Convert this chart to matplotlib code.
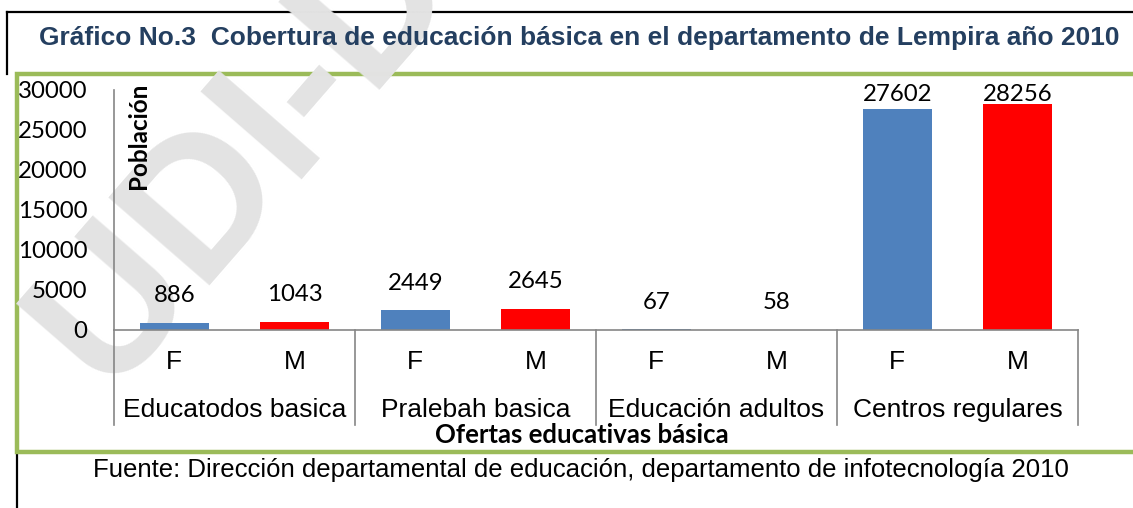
import matplotlib
matplotlib.use("Agg")
import matplotlib.pyplot as plt
from matplotlib.patches import Rectangle
from matplotlib.lines import Line2D

# datos
grupos = ["Educatodos basica", "Pralebah basica", "Educación adultos", "Centros regulares"]
sexos = ["F", "M"]
valores = [886, 1043, 2449, 2645, 67, 58, 27602, 28256]
colores = ["#4F81BD", "#FF0000"] * 4
yticks = [0, 5000, 10000, 15000, 20000, 25000, 30000]

W, H = 1133, 508
fig = plt.figure(figsize=(W / 100, H / 100), dpi=100)

def fx(px):
    return px / W

def fy(py):
    return 1 - py / H

# cajas de pagina
fig.add_artist(Line2D([fx(7), fx(1140)], [fy(12), fy(12)], color="black", lw=1.6, zorder=0))
fig.add_artist(Line2D([fx(7), fx(7)], [fy(12), fy(74)], color="black", lw=1.6, zorder=0))
fig.add_artist(Line2D([fx(17), fx(17)], [fy(452), fy(520)], color="black", lw=1.6, zorder=0))
fig.add_artist(Rectangle((fx(17), fy(452)), fx(1140) - fx(17), fy(74) - fy(452),
                         facecolor="white", edgecolor="#9BBB59", lw=3.2, zorder=0.2))

# marca de agua
fig.text(fx(106), fy(392), "UDI-DEGT-UNAH", rotation=49, rotation_mode="anchor",
         ha="left", va="baseline", fontsize=140, fontweight="bold", color="#e3e3e3",
         family="Liberation Sans", zorder=0.5)

fig.text(fx(579), fy(38), "Gráfico No.3  Cobertura de educación básica en el departamento de Lempira año 2010",
         ha="center", va="center", fontsize=19, fontweight="bold", color="#243F60",
         family="Liberation Sans", zorder=3)

ax = fig.add_axes([fx(114), fy(330), fx(1078) - fx(114), (330 - 90) / H])
ax.set_zorder(2)
ax.patch.set_visible(False)

x = list(range(len(valores)))
bars = ax.bar(x, valores, width=0.57, color=colores)
ax.set_xlim(-0.5, len(valores) - 0.5)
ax.set_ylim(0, 30000)
ax.set_yticks(yticks)
ax.set_yticklabels([str(t) for t in yticks], family="Lato", fontsize=17.3)
ax.tick_params(axis="y", length=0, pad=19)
ax.set_xticks([])
for s in ["top", "right"]:
    ax.spines[s].set_visible(False)
for s in ["left", "bottom"]:
    ax.spines[s].set_color("#868686")
    ax.spines[s].set_linewidth(1.2)

# etiquetas de datos
for xi, v in zip(x, valores):
    ax.text(xi, min(v + 3375, 29400), str(v), ha="center", va="center",
            family="Lato", fontsize=17.3, clip_on=False)

tr = ax.get_xaxis_transform()
for i, xi in enumerate(x):
    ax.text(xi, -32 / 240, sexos[i % 2], transform=tr, ha="center", va="center",
            family="Liberation Sans", fontsize=19)
for g, nombre in enumerate(grupos):
    ax.text(2 * g + 0.5, -80 / 240, nombre, transform=tr, ha="center", va="center",
            family="Liberation Sans", fontsize=19)
for b in range(len(grupos) + 1):
    ax.plot([2 * b - 0.5, 2 * b - 0.5], [0, -95 / 240], transform=tr, color="#868686",
            lw=1.2, clip_on=False)

fig.text(fx(138), fy(83), "Población", rotation=90, ha="center", va="top",
         fontsize=17.5, fontweight="bold", family="Lato", zorder=3)
fig.text(fx(582), fy(435), "Ofertas educativas básica", ha="center", va="center",
         fontsize=18.5, fontweight="bold", family="Lato", zorder=3)

fig.text(fx(581), fy(470), "Fuente: Dirección departamental de educación, departamento de infotecnología 2010",
         ha="center", va="center", fontsize=18.5, family="Liberation Sans", zorder=3)

fig.savefig("out.png", dpi=100)
